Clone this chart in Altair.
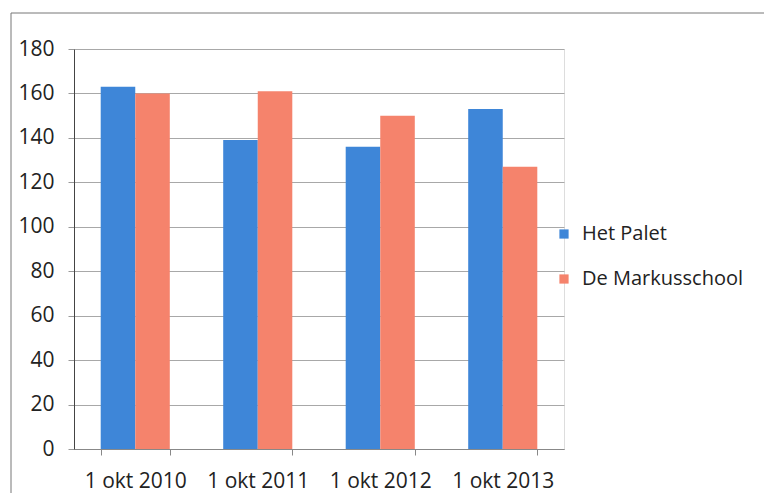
import altair as alt
import pandas as pd

categories = ["1 okt 2010", "1 okt 2011", "1 okt 2012", "1 okt 2013"]
series = ["Het Palet", "De Markusschool"]
het_palet = [163, 139, 136, 153]
markusschool = [160, 161, 150, 127]
colors = ["#3E86D8", "#F5836C"]

rows = []
for c, a, b in zip(categories, het_palet, markusschool):
    rows.append({"datum": c, "school": series[0], "leerlingen": a})
    rows.append({"datum": c, "school": series[1], "leerlingen": b})
df = pd.DataFrame(rows)

FONT = "Open Sans"

bars = alt.Chart(df).mark_bar().encode(
    x=alt.X("datum:N", sort=categories, title=None,
            scale=alt.Scale(paddingInner=0.436, paddingOuter=0.218),
            axis=alt.Axis(labelAngle=0, labelFontSize=21, labelFont=FONT, labelColor="#222222",
                          domainColor="#888888", tickColor="#888888", tickSize=6,
                          tickBand="extent", labelPadding=15, grid=False)),
    xOffset=alt.XOffset("school:N", sort=series),
    y=alt.Y("leerlingen:Q", title=None,
            scale=alt.Scale(domain=[0, 180], nice=False),
            axis=alt.Axis(values=list(range(0, 181, 20)), labelFontSize=21, labelFont=FONT,
                          labelColor="#222222", domainColor="#444444", tickColor="#999999",
                          tickSize=6, labelPadding=14, gridColor="#a8a8a8", grid=True)),
    color=alt.Color("school:N", sort=series,
                    scale=alt.Scale(domain=series, range=colors),
                    legend=alt.Legend(title=None, orient="none", legendX=480, legendY=175,
                                      symbolType="square", symbolSize=85, symbolStrokeWidth=0,
                                      labelFont=FONT, labelFontSize=20, labelColor="#222222",
                                      labelOffset=8, labelLimit=300, rowPadding=25)),
)

frame = alt.Chart(pd.DataFrame({"k": [0]})).mark_rect(
    fill=None, stroke="#777777", strokeWidth=1
).encode(
    x=alt.value(-63), y=alt.value(-36), x2=alt.value(705), y2=alt.value(600)
)

chart = alt.layer(frame, bars).properties(
    width=490, height=400,
    autosize=alt.AutoSizeParams(type="none"),
    padding={"left": 66, "top": 41, "right": 200, "bottom": 45},
).configure_view(stroke=None).configure(background="white")

chart.save("out.html", embed_options={"renderer": "svg", "actions": False})
